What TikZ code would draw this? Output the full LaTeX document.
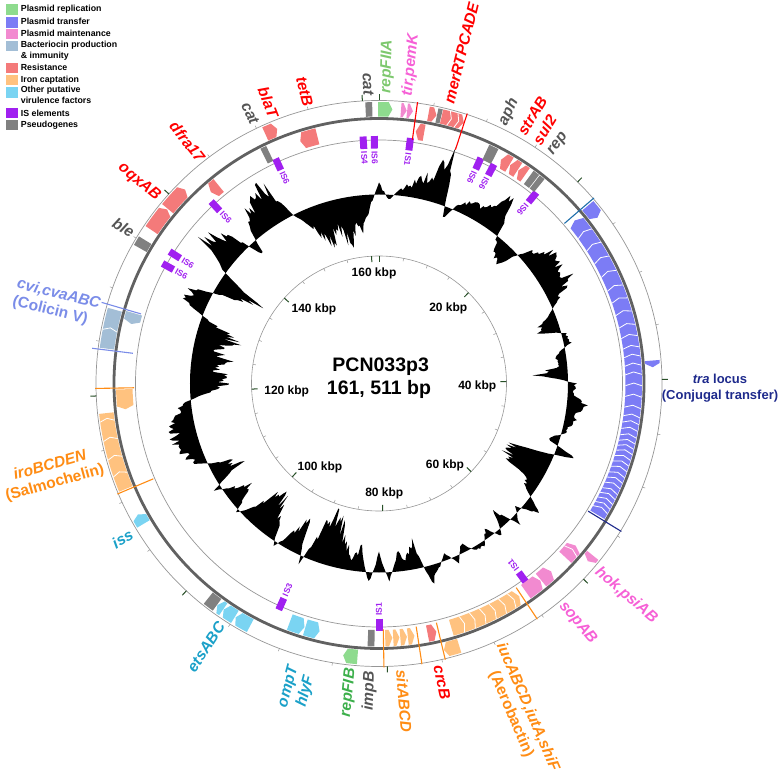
\documentclass[tikz,border=0pt]{standalone}
\usepackage{fontspec}
\setmainfont{Liberation Sans}
\definecolor{cRep}{RGB}{142,219,142}
\definecolor{cTra}{RGB}{124,124,245}
\definecolor{cMai}{RGB}{242,138,208}
\definecolor{cBac}{RGB}{163,190,214}
\definecolor{cRes}{RGB}{244,122,122}
\definecolor{cIro}{RGB}{255,194,127}
\definecolor{cVir}{RGB}{122,212,242}
\definecolor{cIS}{RGB}{160,32,240}
\definecolor{cPse}{RGB}{128,128,128}
\definecolor{tRes}{RGB}{255,0,0}
\definecolor{tGray}{RGB}{85,85,85}
\definecolor{tRepA}{RGB}{125,200,110}
\definecolor{tRepB}{RGB}{60,175,75}
\definecolor{tMai}{RGB}{246,96,214}
\definecolor{tIro}{RGB}{255,140,20}
\definecolor{tVir}{RGB}{26,160,200}
\definecolor{tBac}{RGB}{122,140,232}
\definecolor{tTra}{RGB}{30,42,140}
\definecolor{lTra}{RGB}{30,110,170}
\definecolor{tickc}{RGB}{40,80,40}
\definecolor{ringc}{RGB}{150,150,150}
% features: angles measured clockwise from top
\newcommand\gFwd[3]{\fill[#3] ({90-(#1)}:267pt) arc[start angle={90-(#1)}, end angle={90-(#2)+0.8}, radius=267pt] -- ({90-(#2)}:274.25pt) -- ({90-(#2)+0.8}:281.5pt) arc[start angle={90-(#2)+0.8}, end angle={90-(#1)}, radius=281.5pt] -- cycle;}
\newcommand\gRev[3]{\fill[#3] ({90-(#2)}:246.5pt) arc[start angle={90-(#2)}, end angle={90-(#1)-0.8}, radius=246.5pt] -- ({90-(#1)}:254.75pt) -- ({90-(#1)-0.8}:263pt) arc[start angle={90-(#1)-0.8}, end angle={90-(#2)}, radius=263pt] -- cycle;}
\newcommand\gBlkF[3]{\fill[#3] ({90-(#1)}:267pt) arc[start angle={90-(#1)}, end angle={90-(#2)}, radius=267pt] -- ({90-(#2)}:281.5pt) arc[start angle={90-(#2)}, end angle={90-(#1)}, radius=281.5pt] -- cycle;}
\newcommand\gBlkR[3]{\fill[#3] ({90-(#1)}:246.5pt) arc[start angle={90-(#1)}, end angle={90-(#2)}, radius=246.5pt] -- ({90-(#2)}:263pt) arc[start angle={90-(#2)}, end angle={90-(#1)}, radius=263pt] -- cycle;}
\newcommand\gChF[1]{\draw[white,line width=0.8pt] ({90-(#1)}:267pt) -- ({90-(#1)-0.6}:274.25pt) -- ({90-(#1)}:281.5pt);}
\newcommand\gChR[1]{\draw[white,line width=0.8pt] ({90-(#1)}:246.5pt) -- ({90-(#1)+0.6}:254.75pt) -- ({90-(#1)}:263pt);}
\newcommand\gLine[4]{\draw[#2,line width=1.1pt] ({90-(#1)}:#3pt) -- ({90-(#1)}:#4pt);}
\newcommand\gIS[2]{\draw[cIS,line width=7pt] ({90-(#1)}:235pt) -- ({90-(#1)}:247.5pt); \node[islab,rotate={-90-(#1)},anchor=west] at ({90-(#1)}:232.5pt) {#2};}
\newcommand\gLabR[4]{\node[lab,#4,rotate={90-(#1)},anchor=west] at ({90-(#1)}:#2pt) {#3};}
\newcommand\gLabL[4]{\node[lab,#4,rotate={-90-(#1)},anchor=east] at ({90-(#1)}:#2pt) {#3};}
\def\gcdat{{12,-6,6,14,22,32,54,-14,8,14,18,26,48,-4,-18,-22,8,26,30,28,33,20,3,-10,-28,5,8,-14,-8,-34,8,6,26,14,8,4,-15,22,-40,-50,-42,-18,-6,18,-6,10,-20,8,-10,5,4,-12,8,-8,6,20,-28,-15,-20,10,-22,12,-25,-15,-30,-50,-55,-40,8,-38,-20,6,-25,-40,-48,-20,5,-33,-15,8,-32,-20,10,20,24,26,25,18,10,-20,-42,-38,-30,-40,-25,-44,-35,0,29,22,-20,-48,5,40,36,20,-20,25,32,44,39,0,-15,-35,-45,-30,-52,-40,-35,-15}}
\begin{document}
\begin{tikzpicture}[x=1pt,y=1pt,
  lab/.style={font=\bfseries\itshape\fontsize{15.5}{18}\selectfont, inner sep=0pt},
  islab/.style={font=\bfseries\fontsize{8.5}{9}\selectfont, text=cIS, inner sep=0pt},
  leg/.style={font=\bfseries\fontsize{8.8}{10}\selectfont, inner sep=0pt, anchor=west, text height=6.3pt, text depth=1.8pt},
  kbp/.style={font=\bfseries\fontsize{12}{14}\selectfont, inner sep=0pt},
  ctr/.style={font=\bfseries\fontsize{19.5}{23}\selectfont, inner sep=0pt}]
\useasboundingbox (-379,-389.5) rectangle (399,383.5);
\pgfmathsetseed{4711}
% GC plot
\fill[black,even odd rule] (90:201pt)
  \foreach \i [evaluate=\i as \rr using {189+(\gcdat[int(\i/6)]*(1-(\i-6*int(\i/6))/6)+\gcdat[int(mod(int(\i/6)+1,120))]*((\i-6*int(\i/6))/6))*(0.62+0.5*rnd)}] in {1,...,719} { -- ({90-\i/2}:\rr pt) } -- cycle
  (0,0) circle[radius=189pt];
% inner ruler
\draw[ringc,line width=0.6pt] (0,0) circle[radius=127.5pt];
\foreach \k in {0,5,...,160} {\draw[ringc,line width=0.5pt] ({90-\k*2.228951}:127.5pt) -- ({90-\k*2.228951}:124.5pt);}
\foreach \k in {0,20,...,160} {\draw[tickc,line width=1pt] ({90-\k*2.228951}:127.5pt) -- ({90-\k*2.228951}:121.5pt);}
% outer rings
\draw[ringc,line width=0.7pt] (0,0) circle[radius=283pt];
\draw[ringc,line width=0.7pt] (0,0) circle[radius=243.5pt];
\foreach \k in {0,5,...,160} {\draw[ringc,line width=0.5pt] ({90-\k*2.228951}:283pt) -- ({90-\k*2.228951}:286pt);}
\foreach \k in {0,20,...,160} {\draw[tickc,line width=1pt] ({90-\k*2.228951}:283pt) -- ({90-\k*2.228951}:289pt);}
% IS elements
\gIS{356.3}{IS4} \gIS{358.9}{IS6} \gIS{7.3}{IS1} \gIS{24.3}{IS6} \gIS{27.7}{IS6} \gIS{39.5}{IS6}
\gIS{335.3}{IS6} \gIS{317.3}{IS6} \gIS{302.2}{IS6} \gIS{299}{IS6} \gIS{203.9}{IS3} \gIS{180}{IS1} \gIS{143.5}{IS1}
% forward strand features
\gBlkF{299.5}{301.5}{cPse}
\gFwd{304}{309.4}{cRes} \gFwd{309.6}{315}{cRes}
\gFwd{335.5}{338.2}{cRes}
\gBlkF{357.2}{358.6}{cPse}
\gFwd{-0.2}{2.8}{cRep}
\gFwd{4.6}{5.8}{cMai} \gFwd{5.9}{7.1}{cMai}
\gFwd{10.4}{12.1}{cRes} \gBlkF{12.2}{13.1}{cPse} \gFwd{13.2}{18}{cRes} \gChF{14.7} \gChF{16.3}
\gFwd{49.6}{52.8}{cTra}
\gFwd{85.2}{86.6}{cTra}
\gFwd{128.8}{130.4}{cMai}
\gFwd{163}{166.3}{cIro}
\gFwd{184.5}{187.5}{cRep}
\gFwd{208}{211.5}{cVir} \gFwd{211.7}{214.5}{cVir} \gFwd{214.6}{216.1}{cVir}
\gBlkF{216.2}{218.5}{cPse}
\gFwd{239.2}{241.5}{cVir}
\gBlkF{247.4}{263.8}{cIro} \gChF{250.6} \gChF{254.2} \gChF{258.1} \gChF{262.1}
\gBlkF{277.3}{285.6}{cBac} \gChF{281.1}
% reverse strand features
\gRev{318.7}{321}{cRes}
\gBlkR{333.2}{334.6}{cPse}
\gRev{342}{346}{cRes}
\gRev{8.3}{10.2}{cRes}
\gBlkR{24.8}{27}{cPse}
\gRev{28.6}{30.8}{cRes} \gRev{31}{33}{cRes} \gRev{33.2}{35}{cRes}
\gBlkR{36}{37.5}{cPse} \gBlkR{37.7}{39}{cPse}
\gRev{50.2}{121}{cTra}
\foreach \d in {54,57.5,61,64.5,68,71,74,77,79.5,82,84,86,88,90.5,93,95.5,97.5,99,100.5,102,103.3,104.5,105.7,107,108.3,109.6,111,112.3,113.6,115,116.2,117.4,118.6,119.7} {\gChR{\d}}
\gRev{129.5}{133}{cMai} \gChR{131.2}
\gRev{137.5}{140.5}{cMai} \gRev{140.7}{144.8}{cMai}
\gRev{146.6}{163.5}{cIro} \foreach \d in {148.6,151,153.5,156,158.5,161} {\gChR{\d}}
\gRev{167}{169}{cRes}
\gRev{172}{173.5}{cIro} \gRev{173.7}{175.2}{cIro} \gRev{175.4}{176.8}{cIro} \gRev{177}{178.6}{cIro}
\gBlkR{181}{182.5}{cPse}
\gRev{193.5}{196.8}{cVir} \gRev{197}{200.5}{cVir}
\gRev{264.2}{268.7}{cIro}
\gRev{283.5}{286}{cBac}
% backbone
\draw[black!62,line width=2.8pt] (0,0) circle[radius=265pt];
% locus boundary lines
\gLine{7.8}{tRes}{246}{284} \gLine{18.1}{tRes}{246}{284}
\gLine{49.2}{lTra}{245}{284} \gLine{121.4}{tTra}{245}{284}
\gLine{146.1}{tIro}{246}{284} \gLine{166.5}{tIro}{246}{284} \gLine{171.3}{tIro}{246}{284} \gLine{179}{tIro}{246}{284}
\gLine{247.1}{tIro}{245}{284} \gLine{269}{tIro}{245}{284}
\gLine{277}{tBac}{248}{289} \gLine{286.3}{tBac}{248}{289}
% gene labels
\gLabR{1.5}{290}{repFIIA}{text=tRepA}
\gLabR{5.7}{289}{tir,pemK}{text=tMai}
\gLabR{14}{289}{merRTPCADE}{text=tRes}
\gLabR{25.5}{287}{aph}{text=tGray}
\gLabR{31.5}{287}{strAB\\sul2}{text=tRes,align=left}
\gLabR{36.8}{287}{rep}{text=tGray}
\gLabR{130.6}{287}{hok,psiAB}{text=tMai}
\gLabR{140.3}{286}{sopAB}{text=tMai}
\gLabR{156.8}{287}{iucABCD,iutA,shiF\\\textup{(Aerobactin)}}{text=tIro,align=center}
\gLabR{168.1}{288}{crcB}{text=tRes}
\gLabR{175.5}{287}{sitABCD}{text=tIro}
\gLabL{181.8}{288}{impB}{text=tGray}
\gLabL{185.6}{286}{repFIB}{text=tRepB}
\gLabL{195}{295}{ompT\\hlyF}{text=tVir,align=center}
\gLabL{213.3}{287}{etsABC}{text=tVir}
\gLabL{238.8}{289}{iss}{text=tVir}
\gLabL{254.4}{288}{iroBCDEN\\\textup{(Salmochelin)}}{text=tIro,align=center}
\gLabL{284}{289.5}{cvi,cvaABC\\\textup{(Colicin V)}}{text=tBac,align=left}
\gLabL{301.4}{288}{ble}{text=tGray}
\gLabL{310}{288}{oqxAB}{text=tRes}
\gLabL{321.6}{285}{dfra17}{text=tRes}
\gLabL{334.5}{288}{cat}{text=tGray}
\gLabL{338.5}{286}{blaT}{text=tRes}
\gLabL{345.7}{286}{tetB}{text=tRes}
\gLabL{357.9}{288}{cat}{text=tGray}
\node[font=\bfseries\fontsize{13}{16}\selectfont, text=tTra, align=center, inner sep=0pt] (tra) at (341,-4.5) {\textit{tra} locus\\(Conjugal transfer)};
% kbp labels
\node[kbp] (k160) at (-5,110.5) {160 kbp};
\node[kbp] (k20) at (69.3,75.2) {20 kbp};
\node[kbp] (k40) at (98.3,-3.2) {40 kbp};
\node[kbp] (k60) at (66,-82.2) {60 kbp};
\node[kbp] (k80) at (5.3,-109.8) {80 kbp};
\node[kbp] (k100) at (-59,-83.8) {100 kbp};
\node[kbp] (k120) at (-92.3,-8.2) {120 kbp};
\node[kbp] (k140) at (-65,74.2) {140 kbp};
\node[ctr] (name) at (1.7,16.8) {PCN033p3};
\node[ctr] (size) at (0,-5.8) {161, 511 bp};
% legend
\fill[cRep] (-373,379.5) rectangle (-361,368.5);
\fill[cTra] (-373,366.5) rectangle (-361,355.5);
\fill[cMai] (-373,354.5) rectangle (-361,344.5);
\fill[cBac] (-373,342.5) rectangle (-361,332.5);
\fill[cRes] (-373,320.5) rectangle (-361,310.5);
\fill[cIro] (-373,308.5) rectangle (-361,298.5);
\fill[cVir] (-373,296.5) rectangle (-361,285.5);
\fill[cIS] (-373,275.5) rectangle (-361,265.5);
\fill[cPse] (-373,263.5) rectangle (-361,253.5);
\node[leg] (l1) at (-358.3,374.2) {Plasmid replication};
\node[leg] (l2) at (-358.3,361.2) {Plasmid transfer};
\node[leg] (l3) at (-358.3,349.5) {Plasmid maintenance};
\node[leg] (l4) at (-358.3,338.5) {Bacteriocin production};
\node[leg] (l4b) at (-358.3,327.5) {\& immunity};
\node[leg] (l5) at (-358.3,315.2) {Resistance};
\node[leg] (l6) at (-358.3,303.5) {Iron captation};
\node[leg] (l7) at (-358.3,292.8) {Other putative};
\node[leg] (l7b) at (-358.3,281.8) {virulence factors};
\node[leg] (l8) at (-358.3,269.5) {IS elements};
\node[leg] (l9) at (-358.3,258.5) {Pseudogenes};
\end{tikzpicture}
\end{document}
